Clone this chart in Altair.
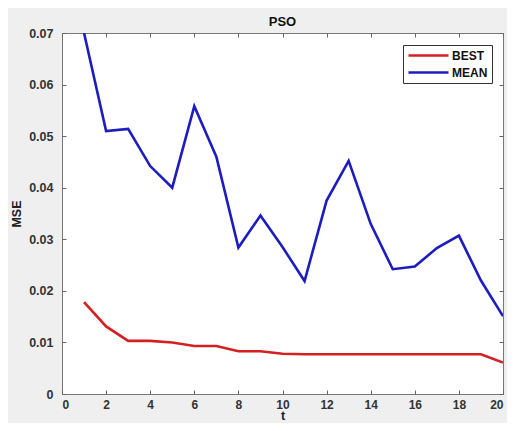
import altair as alt
import pandas as pd

t = list(range(1, 21))
best = [0.0178, 0.0131, 0.0103, 0.0103, 0.0100, 0.0093, 0.0093, 0.0083, 0.0083, 0.0078,
        0.0077, 0.0077, 0.0077, 0.0077, 0.0077, 0.0077, 0.0077, 0.0077, 0.0077, 0.0061]
mean = [0.0700, 0.0510, 0.0514, 0.0442, 0.0400, 0.0558, 0.0460, 0.0284, 0.0346, 0.0285,
        0.0219, 0.0375, 0.0452, 0.0330, 0.0242, 0.0247, 0.0283, 0.0307, 0.0220, 0.0151]
series = ["BEST", "MEAN"]
colors = ["#d42020", "#1c1cbf"]

df = pd.concat([
    pd.DataFrame({"t": t, "MSE": best, "series": "BEST"}),
    pd.DataFrame({"t": t, "MSE": mean, "series": "MEAN"}),
])

FONT = "Liberation Sans"
W, H = 441, 361
yticks = [0, 0.01, 0.02, 0.03, 0.04, 0.05, 0.06, 0.07]
xticks = list(range(0, 21, 2))

x_main = alt.X("t:Q", scale=alt.Scale(domain=[0, 20], nice=False),
               axis=alt.Axis(values=xticks, title="t", grid=False,
                             offset=-4, tickSize=4, domain=False, labelPadding=5,
                             tickColor="#666666", labelColor="#333333", titleColor="#222222",
                             labelFont=FONT, titleFont=FONT, labelFontWeight="bold",
                             titleFontWeight="bold", labelFontSize=12, titleFontSize=12.5,
                             titleY=32.5, titleBaseline="bottom"))
y_main = alt.Y("MSE:Q", scale=alt.Scale(domain=[0, 0.07], nice=False),
               axis=alt.Axis(values=yticks, format="~g", title="MSE", grid=False,
                             offset=-4, tickSize=4, domain=False, labelPadding=9,
                             tickColor="#666666", labelColor="#333333", titleColor="#222222",
                             labelFont=FONT, titleFont=FONT, labelFontWeight="bold",
                             titleFontWeight="bold", labelFontSize=12.5, titleFontSize=12.5,
                             titlePadding=5))

lines = alt.Chart(df).mark_line(strokeWidth=2.6, clip=True).encode(
    x=x_main,
    y=y_main,
    color=alt.Color("series:N", scale=alt.Scale(domain=series, range=colors),
                    legend=alt.Legend(title=None, orient="none", legendX=341, legendY=12,
                                      symbolType="M-1,0H7", symbolSize=100,
                                      symbolStrokeWidth=2.6, labelFont=FONT,
                                      labelFontWeight="bold", labelFontSize=12,
                                      labelColor="#111111", strokeColor="#333333",
                                      fillColor="white", padding=4, rowPadding=4,
                                      labelOffset=32)),
)

x_top = alt.X("t:Q", scale=alt.Scale(domain=[0, 20], nice=False),
              axis=alt.Axis(orient="top", values=xticks, title=None,
                            labels=False, grid=False, offset=-4, tickSize=4, domain=False,
                            tickColor="#666666"))
y_right = alt.Y("MSE:Q", scale=alt.Scale(domain=[0, 0.07], nice=False),
                axis=alt.Axis(orient="right", values=yticks,
                              title=None, labels=False, grid=False, offset=-4, tickSize=4,
                              domain=False, tickColor="#666666"))
frame = alt.Chart(df).mark_point(opacity=0).encode(x=x_top, y=y_right)

chart = alt.layer(lines, frame).resolve_axis(x="independent", y="independent").properties(
    width=W, height=H,
    title=alt.TitleParams("PSO", font=FONT, fontWeight="bold", fontSize=13,
                          color="#111111", offset=-2),
    background="#efefef",
    padding={"left": 54, "top": 25, "right": 4, "bottom": 29},
    autosize=alt.AutoSizeParams(type="none"),
).configure_view(fill="white", stroke="#777777", strokeWidth=1)

chart.save("out.html", embed_options={"renderer": "svg", "actions": False})
